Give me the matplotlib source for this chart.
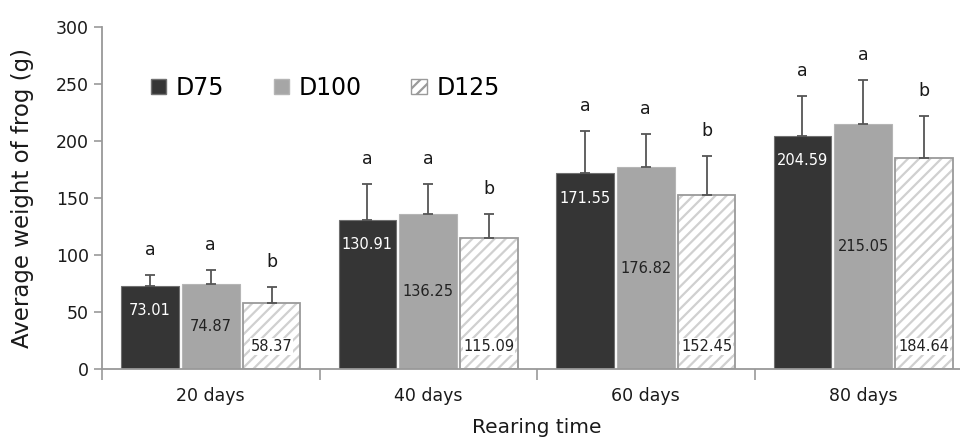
import matplotlib
matplotlib.use("Agg")
import matplotlib.pyplot as plt
from matplotlib.patches import Patch
import numpy as np

# data
days = ["20 days", "40 days", "60 days", "80 days"]
d75 = [73.01, 130.91, 171.55, 204.59]
d100 = [74.87, 136.25, 176.82, 215.05]
d125 = [58.37, 115.09, 152.45, 184.64]
err75 = [9.5, 31.0, 37.0, 34.7]
err100 = [12.3, 26.2, 29.5, 38.0]
err125 = [13.3, 21.0, 34.0, 37.4]
let75 = ["a", "a", "a", "a"]
let100 = ["a", "a", "a", "a"]
let125 = ["b", "b", "b", "b"]

plt.rcParams["font.family"] = "DejaVu Sans"
plt.rcParams["hatch.linewidth"] = 1.6
plt.rcParams["hatch.color"] = "#d0d0d0"

fig = plt.figure(figsize=(9.6, 4.42), dpi=100)
ax = fig.add_axes([102 / 960, 72.7 / 442, 1 - 102 / 960, 342.6 / 442])

x = np.arange(len(days))
w = 0.265
off = 0.28
ecol = "#555555"

ax.bar(x - off, d75, w, color="#353535", edgecolor="#707070", linewidth=0.8, label="D75", zorder=2)
ax.bar(x, d100, w, color="#a6a6a6", edgecolor="#b5b5b5", linewidth=0.8, label="D100", zorder=2)
ax.bar(x + off, d125, w, color="white", edgecolor="#d0d0d0", linewidth=0, hatch="///", zorder=2)
ax.bar(x + off, d125, w, fill=False, edgecolor="#9a9a9a", linewidth=1.3, zorder=3)

for xs, vals, errs in [(x - off, d75, err75), (x, d100, err100), (x + off, d125, err125)]:
    ax.errorbar(xs, vals, yerr=[np.zeros(len(errs)), errs], fmt="none", ecolor=ecol,
                elinewidth=1.3, capsize=3.3, capthick=1.3, zorder=4)

# significance letters
for xs, vals, errs, lets in [(x - off, d75, err75, let75), (x, d100, err100, let100),
                             (x + off, d125, err125, let125)]:
    for xi, v, e, l in zip(xs, vals, errs, lets):
        ax.annotate(l, (xi, v + e), xytext=(0, 14.5), textcoords="offset points",
                    ha="center", va="baseline", fontsize=12.5, color="#1a1a1a")

# value labels
for xi, v in zip(x - off, d75):
    ax.annotate(f"{v:.2f}", (xi, v), xytext=(0, -18), textcoords="offset points",
                ha="center", va="center", fontsize=10.5, color="white", zorder=5)
for xi, v in zip(x, d100):
    ax.text(xi, v / 2, f"{v:.2f}", ha="center", va="center", fontsize=10.5, color="#222222", zorder=5)
for xi, v in zip(x + off, d125):
    ax.annotate(f"{v:.2f}", (xi, 0), xytext=(0, 16.3), textcoords="offset points",
                ha="center", va="center", fontsize=10.5, color="#222222", zorder=5,
                bbox=dict(boxstyle="square,pad=0.05", fc="white", ec="none"))

ax.set_yticks([0, 50, 100, 150, 200, 250, 300])
ax.set_xticks(x)
ax.set_xticklabels(days)
ax.set_xticks([-0.5, 0.5, 1.5, 2.5], minor=True)
ax.set_xlim(-0.5, -0.5 + (960 - 102) / 217.5)
ax.set_ylim(0, 300)
ax.tick_params(axis="x", which="major", length=0, pad=13, labelsize=12.5, colors="#1a1a1a")
ax.tick_params(axis="x", which="minor", length=8, width=1.2, color="#999999")
ax.tick_params(axis="y", length=6, width=1.2, color="#999999", labelsize=12.5, labelcolor="#1a1a1a")

for s in ["top", "right"]:
    ax.spines[s].set_visible(False)
for s in ["left", "bottom"]:
    ax.spines[s].set_color("#999999")
    ax.spines[s].set_linewidth(1.3)

ax.set_ylabel("Average weight of frog (g)", fontsize=16.5, color="#1a1a1a", labelpad=16)
ax.set_xlabel("Rearing time", fontsize=14.5, color="#1a1a1a")
ax.xaxis.set_label_coords((537 - 102) / (960 - 102), -0.142)

handles = [Patch(facecolor="#353535", edgecolor="#707070"),
           Patch(facecolor="#a6a6a6", edgecolor="#b5b5b5"),
           Patch(facecolor="white", edgecolor="#9a9a9a", hatch="///")]
leg = ax.legend(handles, ["D75", "D100", "D125"], ncol=3, loc="center left",
                bbox_to_anchor=((151 - 102) / 858, (369.3 - 88) / 342.6), frameon=False,
                fontsize=17, handlelength=0.65, handleheight=0.62, handletextpad=0.4,
                columnspacing=2.1, borderpad=0, borderaxespad=0)

fig.savefig("out.png", dpi=100, facecolor="white")
